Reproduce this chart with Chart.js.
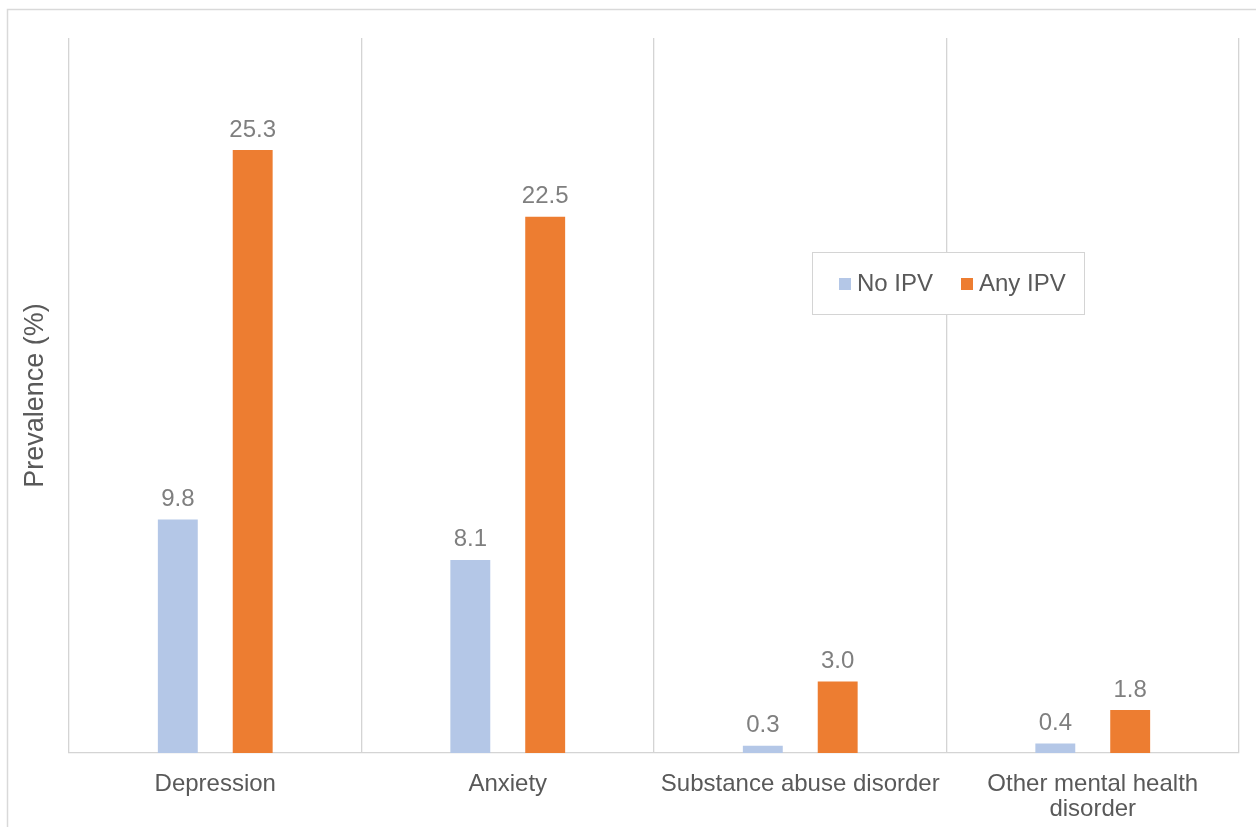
<!DOCTYPE html>
<html>
<head>
<meta charset="utf-8">
<script src="https://cdn.jsdelivr.net/npm/chart.js@4/dist/chart.umd.min.js"></script>
<style>
  html, body { margin: 0; padding: 0; background: #ffffff; }
  #wrap { width: 1256px; height: 827px; }
</style>
</head>
<body>
<div id="wrap"><canvas id="chart" width="1256" height="827"></canvas></div>
<script>
// Prevalence of mental health conditions by IPV exposure
const categories = ['Depression', 'Anxiety', 'Substance abuse disorder', ['Other mental health', 'disorder']];
const seriesNames = ['No IPV', 'Any IPV'];
const noIpvValues = [9.8, 8.1, 0.3, 0.4];
const anyIpvValues = [25.3, 22.5, 3.0, 1.8];
const yAxisTitle = 'Prevalence (%)';
const yMin = 0;
const yMax = 30;

const FONT = "'Liberation Sans', Arial, Helvetica, sans-serif";
Chart.defaults.font.family = FONT;

// white page with a light frame around the figure
const framePlugin = {
  id: 'frame',
  beforeDraw(chart) {
    const ctx = chart.ctx;
    ctx.save();
    ctx.fillStyle = '#ffffff';
    ctx.fillRect(0, 0, chart.width, chart.height);
    ctx.strokeStyle = '#d9d9d9';
    ctx.lineWidth = 1.5;
    ctx.strokeRect(7.5, 9.5, chart.width + 50, chart.height + 50);
    ctx.restore();
  }
};

// value labels above each bar
const valueLabels = {
  id: 'valueLabels',
  afterDatasetsDraw(chart) {
    const ctx = chart.ctx;
    ctx.save();
    ctx.font = '24px ' + FONT;
    ctx.fillStyle = '#7f7f7f';
    ctx.textAlign = 'center';
    ctx.textBaseline = 'alphabetic';
    chart.data.datasets.forEach((ds, di) => {
      const meta = chart.getDatasetMeta(di);
      meta.data.forEach((bar, i) => {
        ctx.fillText(ds.data[i].toFixed(1), bar.x, bar.y - 13.5);
      });
    });
    ctx.restore();
  }
};

// boxed legend inside the plot area
const boxLegend = {
  id: 'boxLegend',
  afterDraw(chart) {
    const ctx = chart.ctx;
    const box = { x: 812.5, y: 252.5, w: 272, h: 62 };
    ctx.save();
    ctx.fillStyle = '#ffffff';
    ctx.fillRect(box.x, box.y, box.w, box.h);
    ctx.strokeStyle = '#d4d4d4';
    ctx.lineWidth = 1;
    ctx.strokeRect(box.x, box.y, box.w, box.h);
    ctx.font = '24px ' + FONT;
    ctx.textBaseline = 'alphabetic';
    ctx.textAlign = 'left';
    const itemX = [839, 961];
    chart.data.datasets.forEach((ds, i) => {
      ctx.fillStyle = ds.backgroundColor;
      ctx.fillRect(itemX[i], 278, 12, 12);
      ctx.fillStyle = '#595959';
      ctx.fillText(ds.label, itemX[i] + 18, 291);
    });
    ctx.restore();
  }
};

new Chart(document.getElementById('chart'), {
  type: 'bar',
  data: {
    labels: categories,
    datasets: [
      { label: seriesNames[0], data: noIpvValues, backgroundColor: '#b4c7e7' },
      { label: seriesNames[1], data: anyIpvValues, backgroundColor: '#ed7d31' }
    ]
  },
  options: {
    responsive: false,
    animation: false,
    devicePixelRatio: 1,
    categoryPercentage: 0.512,
    barPercentage: 0.533,
    layout: { padding: { top: 38, right: 17, left: 0, bottom: 0 } },
    plugins: {
      legend: { display: false },
      tooltip: { enabled: false }
    },
    scales: {
      x: {
        grid: { offset: true, color: '#d4d4d4', lineWidth: 1.3, drawTicks: false },
        border: { display: true, color: '#d4d4d4', width: 1.3 },
        ticks: {
          color: '#595959',
          font: { size: 24, lineHeight: '25px' },
          padding: 19,
          maxRotation: 0,
          autoSkip: false
        },
        afterFit(scale) { scale.height = 74; }
      },
      y: {
        min: yMin,
        max: yMax,
        grid: { display: false },
        border: { display: false },
        ticks: { display: false },
        title: {
          display: true,
          text: yAxisTitle,
          color: '#595959',
          font: { size: 27 },
          padding: { top: 19, bottom: 0 }
        },
        afterFit(scale) { scale.width = 69; }
      }
    }
  },
  plugins: [framePlugin, valueLabels, boxLegend]
});
</script>
</body>
</html>
